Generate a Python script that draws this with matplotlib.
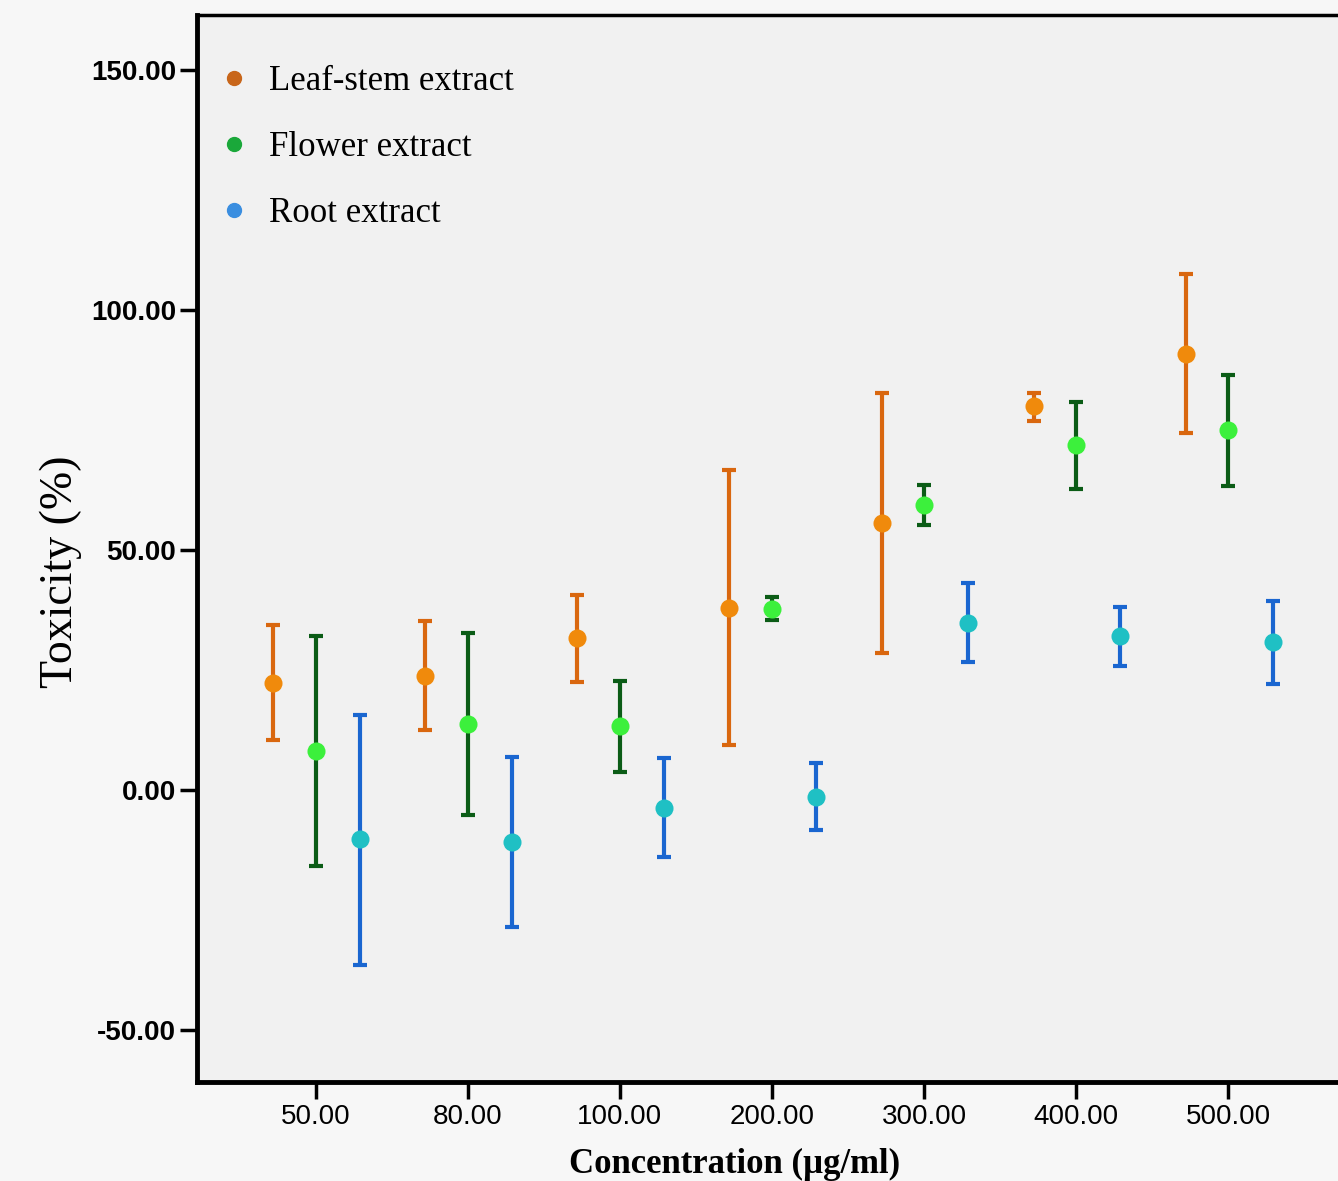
import numpy as np
import matplotlib.pyplot as plt

concentrations = ['50.00', '80.00', '100.00', '200.00', '300.00', '400.00', '500.00']

leaf_mean = [22.3, 23.8, 31.7, 37.9, 55.6, 80.0, 90.8]
leaf_low = [10.4, 12.5, 22.5, 9.4, 28.5, 76.9, 74.4]
leaf_high = [34.4, 35.2, 40.6, 66.7, 82.7, 82.7, 107.5]

flower_mean = [8.1, 13.7, 13.3, 37.7, 59.4, 71.9, 75.0]
flower_low = [-15.8, -5.2, 3.7, 35.4, 55.2, 62.7, 63.3]
flower_high = [32.1, 32.7, 22.7, 40.2, 63.5, 80.8, 86.5]

root_mean = [-10.2, -10.8, -3.7, -1.5, 34.8, 32.1, 30.8]
root_low = [-36.5, -28.5, -14.0, -8.3, 26.7, 25.8, 22.1]
root_high = [15.6, 6.9, 6.7, 5.6, 43.1, 38.1, 39.4]

series = [
    ('Leaf-stem extract', leaf_mean, leaf_low, leaf_high, -0.28, '#f08a0c', '#d9670f', '#c8661a'),
    ('Flower extract', flower_mean, flower_low, flower_high, 0.0, '#3cf03c', '#0b5c16', '#1aa83a'),
    ('Root extract', root_mean, root_low, root_high, 0.29, '#1fc0c4', '#1a66d0', '#3a8ee0'),
]

fig = plt.figure(figsize=(13.38, 11.81), dpi=100, facecolor='#f7f7f7')
ax = fig.add_axes([0.1472, 0.0838, 0.8528, 0.9035])
ax.set_facecolor('#f1f1f1')

x = np.arange(len(concentrations))
handles = []
for name, m, lo, hi, off, mcol, ecol, lcol in series:
    m = np.array(m)
    err = [m - np.array(lo), np.array(hi) - m]
    ax.errorbar(x + off, m, yerr=err, fmt='none', ecolor=ecol, elinewidth=3,
                capsize=5, capthick=3, zorder=2)
    ax.plot(x + off, m, 'o', color=mcol, markersize=13, markeredgewidth=0, zorder=3)
    h, = ax.plot([], [], 'o', color=lcol, markersize=10, label=name)
    handles.append(h)

ax.set_xlim(-0.78, 6.72)
ax.set_ylim(-60.8, 161.5)
ax.set_xticks(x)
ax.set_xticklabels(concentrations, family='Liberation Sans', fontsize=20)
ax.set_yticks([-50, 0, 50, 100, 150])
ax.set_yticklabels(['-50.00', '0.00', '50.00', '100.00', '150.00'],
                   family='Liberation Sans', fontsize=20, fontweight='bold')
ax.tick_params(axis='both', length=12, width=2.5, color='black')
ax.tick_params(axis='x', pad=4)
ax.tick_params(axis='y', pad=3)

for s in ['left', 'bottom']:
    ax.spines[s].set_linewidth(3.5)
ax.spines['top'].set_linewidth(2.5)
ax.spines['right'].set_visible(False)

ax.set_xlabel('Concentration (µg/ml)', family='Liberation Serif', fontsize=25,
              fontweight='bold')
ax.xaxis.set_label_coords(0.4715, -0.062)
ax.set_ylabel('Toxicity (%)', family='Liberation Serif', fontsize=33)
ax.yaxis.set_label_coords(-0.101, 0.478)

leg = ax.legend(handles=handles, loc='upper left', bbox_to_anchor=(-0.01, 0.982),
                frameon=False, prop={'family': 'Liberation Serif', 'size': 25},
                labelspacing=0.95, handletextpad=0.5, handlelength=1.0)

fig.savefig('out.png', dpi=100, facecolor=fig.get_facecolor())
